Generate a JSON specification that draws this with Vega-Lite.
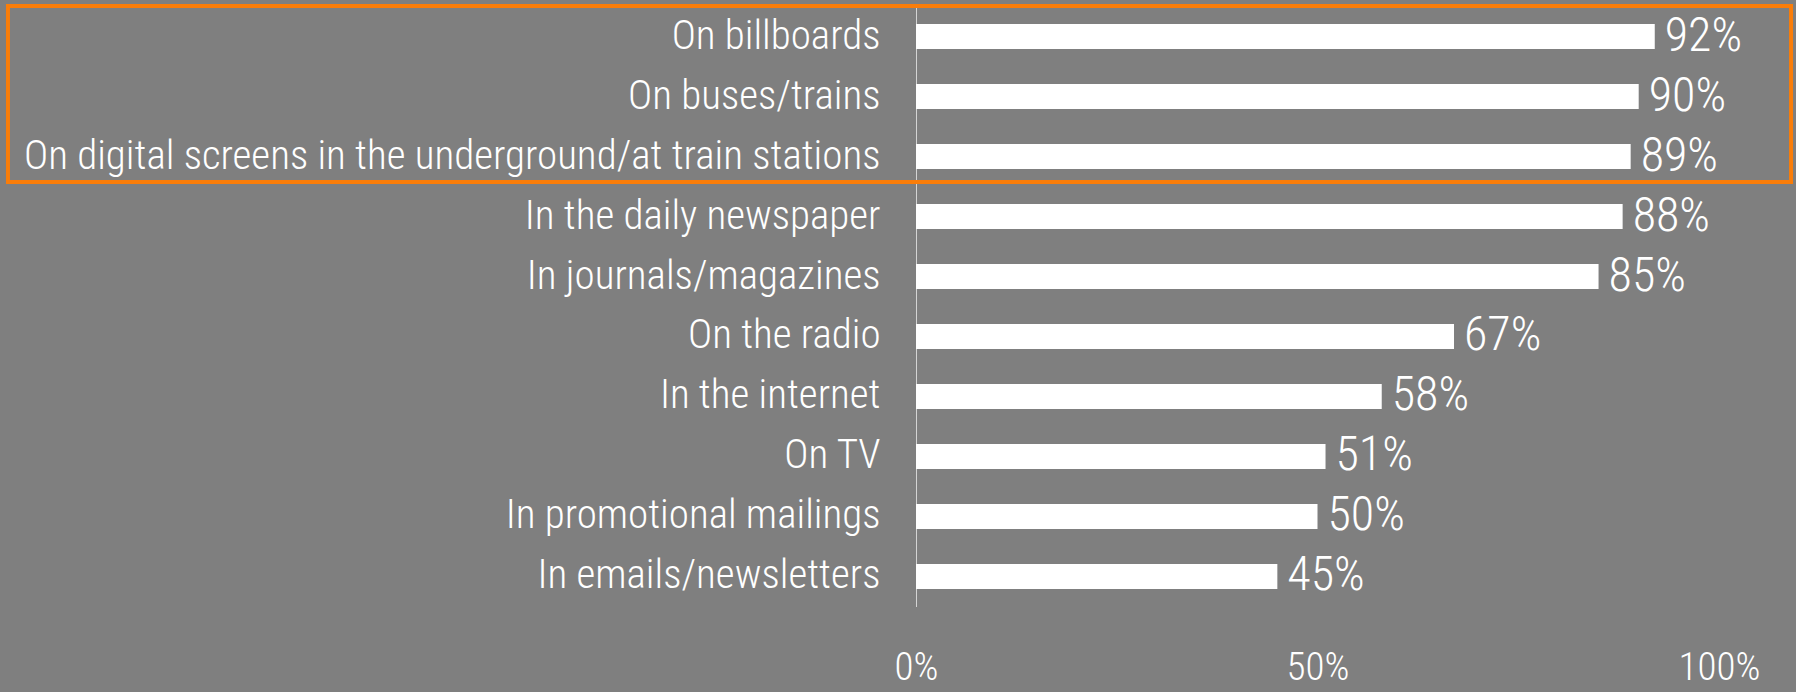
{
  "$schema": "https://vega.github.io/schema/vega-lite/v6.json",
  "width": 803,
  "height": 600,
  "autosize": "none",
  "padding": {"left": 916, "top": 6.5, "right": 77, "bottom": 85.5},
  "background": "#7F7F7F",
  "config": {"view": {"stroke": null}, "font": "Roboto Condensed"},
  "datasets": {
    "media": [
      {"channel": "On billboards", "share": 0.92},
      {"channel": "On buses/trains", "share": 0.90},
      {"channel": "On digital screens in the underground/at train stations", "share": 0.89},
      {"channel": "In the daily newspaper", "share": 0.88},
      {"channel": "In journals/magazines", "share": 0.85},
      {"channel": "On the radio", "share": 0.67},
      {"channel": "In the internet", "share": 0.58},
      {"channel": "On TV", "share": 0.51},
      {"channel": "In promotional mailings", "share": 0.50},
      {"channel": "In emails/newsletters", "share": 0.45}
    ],
    "highlight": [
      {"first": "On billboards", "last": "On digital screens in the underground/at train stations", "left": -1.1308, "right": 1.0897}
    ]
  },
  "layer": [
    {
      "data": {"name": "media"},
      "mark": {"type": "bar", "color": "#FFFFFF"},
      "encoding": {
        "y": {
          "field": "channel", "type": "nominal", "title": null,
          "scale": {
            "domain": ["On billboards", "On buses/trains", "On digital screens in the underground/at train stations", "In the daily newspaper", "In journals/magazines", "On the radio", "In the internet", "On TV", "In promotional mailings", "In emails/newsletters"],
            "paddingInner": 0.5833, "paddingOuter": 0.2917
          },
          "axis": {"title": null, "ticks": false, "domain": true, "domainColor": "#D4D4D4", "domainWidth": 1, "labelColor": "#FFFFFF", "labelFont": "Roboto Condensed", "labelFontWeight": 300, "labelFontSize": 41, "labelPadding": 36, "labelLimit": 1000, "grid": false}
        },
        "x": {
          "field": "share", "type": "quantitative", "title": null,
          "scale": {"domain": [0, 1], "nice": false},
          "axis": {"title": null, "values": [0, 0.5, 1], "format": ".0%", "ticks": false, "domain": false, "grid": false, "labelColor": "#FFFFFF", "labelFont": "Roboto Condensed", "labelFontWeight": 300, "labelFontSize": 39, "labelPadding": 42, "labelFlush": false}
        }
      }
    },
    {
      "data": {"name": "media"},
      "mark": {"type": "text", "align": "left", "baseline": "middle", "dx": 10, "color": "#FFFFFF", "fontSize": 48, "fontWeight": 300, "font": "Roboto Condensed"},
      "encoding": {
        "y": {"field": "channel", "type": "nominal", "title": null,
          "scale": {
            "domain": ["On billboards", "On buses/trains", "On digital screens in the underground/at train stations", "In the daily newspaper", "In journals/magazines", "On the radio", "In the internet", "On TV", "In promotional mailings", "In emails/newsletters"],
            "paddingInner": 0.5833, "paddingOuter": 0.2917
          }},
        "x": {"field": "share", "type": "quantitative", "title": null, "scale": {"domain": [0, 1], "nice": false}},
        "text": {"field": "share", "type": "quantitative", "format": ".0%"}
      }
    },
    {
      "data": {"name": "highlight"},
      "mark": {"type": "rect", "fill": "transparent", "stroke": "#FA7D09", "strokeWidth": 4},
      "encoding": {
        "x": {"field": "left", "type": "quantitative", "title": null, "scale": {"domain": [0, 1], "nice": false}},
        "x2": {"field": "right"},
        "y": {"field": "first", "type": "nominal", "bandPosition": -0.72, "title": null,
          "scale": {
            "domain": ["On billboards", "On buses/trains", "On digital screens in the underground/at train stations", "In the daily newspaper", "In journals/magazines", "On the radio", "In the internet", "On TV", "In promotional mailings", "In emails/newsletters"],
            "paddingInner": 0.5833, "paddingOuter": 0.2917
          }},
        "y2": {"field": "last", "bandPosition": 1.52}
      }
    }
  ]
}
